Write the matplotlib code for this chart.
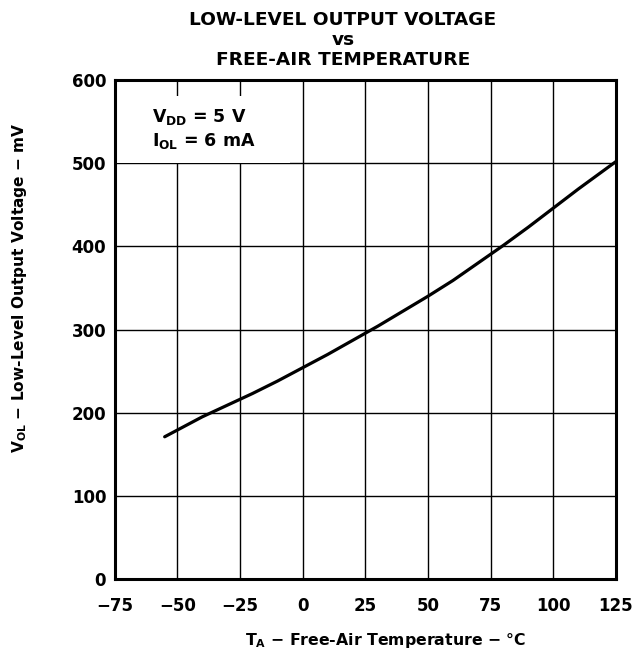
import matplotlib
matplotlib.use("Agg")
import matplotlib.pyplot as plt
from matplotlib.patches import Rectangle
from matplotlib.ticker import FixedLocator

plt.rcParams['font.family'] = ['DejaVu Sans']
plt.rcParams['font.weight'] = 'bold'
plt.rcParams['mathtext.fontset'] = 'custom'
plt.rcParams['mathtext.rm'] = 'DejaVu Sans:bold'
plt.rcParams['mathtext.bf'] = 'DejaVu Sans:bold'
plt.rcParams['mathtext.it'] = 'DejaVu Sans:bold'
plt.rcParams['axes.unicode_minus'] = True

# Data
temp_c = [-55, -50, -40, -30, -20, -10, 0, 10, 20, 30, 40, 50, 60, 70, 80, 90, 100, 110, 125]
vol_mv = [171, 179, 195, 209, 223, 238, 254, 270, 287, 304, 322, 340, 359, 380, 401, 423, 446, 469, 502]

x_ticks = [-75, -50, -25, 0, 25, 50, 75, 100, 125]
y_ticks = [0, 100, 200, 300, 400, 500, 600]

fig = plt.figure(figsize=(6.38, 6.56), dpi=100)
ax = fig.add_axes([0.1795, 0.1174, 0.7860, 0.7606])

ax.set_xlim(-75, 125)
ax.set_ylim(0, 600)
ax.xaxis.set_major_locator(FixedLocator(x_ticks))
ax.yaxis.set_major_locator(FixedLocator(y_ticks))
ax.set_xticklabels([str(t).replace('-', '\u2212') for t in x_ticks])
ax.set_yticklabels([str(t) for t in y_ticks])
ax.tick_params(axis='x', length=0, labelsize=12, pad=13)
ax.tick_params(axis='y', length=0, labelsize=12, pad=6)
for lbl in ax.get_xticklabels() + ax.get_yticklabels():
    lbl.set_fontweight('bold')

ax.set_axisbelow(True)
ax.grid(True, color='black', linewidth=1.0)
for s in ax.spines.values():
    s.set_linewidth(2.2)

# white box behind the conditions text
ax.add_patch(Rectangle((0, 0.834), 0.35, 0.134, transform=ax.transAxes,
                       facecolor='white', edgecolor='none', zorder=1))

ax.plot(temp_c, vol_mv, color='black', linewidth=2.3, zorder=3,
        solid_capstyle='round', solid_joinstyle='round')

ax.text(0.075, 0.925, r'$\mathbf{V_{DD}}$ = 5 V', transform=ax.transAxes,
        fontsize=12.5, fontweight='bold', va='center', ha='left', zorder=4)
ax.text(0.075, 0.877, r'$\mathbf{I_{OL}}$ = 6 mA', transform=ax.transAxes,
        fontsize=12.5, fontweight='bold', va='center', ha='left', zorder=4)

tx = 343 / 638
fig.text(tx, 1 - 20 / 656, 'LOW-LEVEL OUTPUT VOLTAGE', ha='center', va='center',
         fontsize=13.3, fontweight='bold')
fig.text(tx, 1 - 40 / 656, 'vs', ha='center', va='center',
         fontsize=13.3, fontweight='bold')
fig.text(tx, 1 - 60 / 656, 'FREE-AIR TEMPERATURE', ha='center', va='center',
         fontsize=13.3, fontweight='bold')

fig.text(386 / 638, 1 - 640 / 656, r'$\mathbf{T_{A}}$ $-$ Free-Air Temperature $-$ °C',
         ha='center', va='center', fontsize=11.3, fontweight='bold')
fig.text(0.03, 1 - 288 / 656, r'$\mathbf{V_{OL}}$ $-$ Low-Level Output Voltage $-$ mV',
         ha='center', va='center', rotation=90, fontsize=11.1, fontweight='bold')

fig.savefig('out.png', dpi=100, facecolor='white')
